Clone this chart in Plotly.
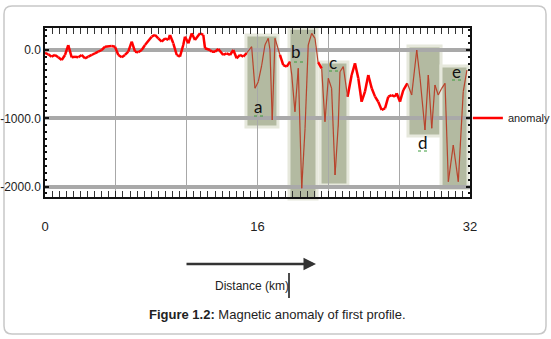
import plotly.graph_objects as go

# ---- data ----
distance_km = [0.0, 0.25, 0.50, 0.75, 1.00, 1.26, 1.51, 1.75, 2.01, 2.26, 2.51, 2.76, 3.01, 3.26, 3.52,
               3.76, 4.01, 4.27, 4.52, 5.02, 5.27, 5.52, 5.78, 6.02, 6.27, 6.53, 6.78, 7.02, 7.28, 7.53,
               8.03, 8.28, 8.53, 8.79, 9.04, 9.28, 9.41, 9.66, 9.92, 10.16, 10.41, 10.54, 10.79, 11.05,
               11.29, 11.67, 11.92, 12.05, 12.42, 12.55, 12.80, 13.05, 13.42, 13.68, 13.93, 14.18, 14.43,
               14.68, 14.93, 15.19, 15.56, 15.81, 16.06, 16.32, 16.56, 16.81, 16.94, 17.11, 17.32, 17.69,
               17.94, 18.20, 18.45, 18.58, 18.82, 19.07, 19.33, 19.58, 19.82, 20.08, 20.33, 20.56, 20.83,
               21.08, 21.33, 21.58, 21.84, 22.08, 22.21, 22.46, 22.78, 23.09, 23.34, 23.59, 23.84, 24.09,
               24.34, 24.60, 24.85, 25.09, 25.35, 25.60, 25.85, 26.10, 26.35, 26.48, 26.73, 26.98, 27.28,
               27.61, 27.99, 28.24, 28.61, 28.86, 29.12, 29.36, 29.61, 29.87, 30.12, 30.37, 30.74, 31.12,
               31.49, 31.77]
anomaly = [-44, -63, -98, -73, -107, -146, -73, 73, -107, -98, -107, -73, -122, -98, -73,
           -48, -25, 0, 48, 59, 48, -73, -107, -73, -25, 122, -25, -34, 0, 73,
           195, 220, 171, 122, 171, 146, 220, 98, -73, -98, 73, 195, 98, 244,
           146, 244, 220, 25, 0, -25, -25, 15, -73, -48, -73, 0, -122,
           -73, -98, -44, 48, -561, -464, -220, 73, 171, 0, -1025, 171, -73,
           -220, -244, -171, -366, -903, -268, -2025, -1146, 73, 244, 171, -176, -268,
           -1050, -414, -561, -1830, -1098, -318, -244, -683, -366, -195, -414, -757, -610,
           -366, -561, -683, -757, -878, -854, -683, -659, -683, -634, -757, -586, -488,
           -659, 0, -414, -1171, -366, -1146, -512, -659, -561, -488, -1928, -1391, -1928,
           -610, -293]

x_gridlines = [0, 32 / 6, 64 / 6, 16, 128 / 6, 160 / 6, 32]
x_ticktext = ["0", "", "", "16", "", "", "32"]
y_tickvals = [0, -1000, -2000]
y_ticktext = ["0.0", "-1000.0", "-2000.0"]

box_labels = ["a", "b", "c", "d", "e"]
box_x0 = [15.13, 18.37, 20.71, 27.33, 29.82]
box_x1 = [17.54, 20.48, 22.81, 29.82, 31.85]
box_top = [0.959, 0.998, 0.799, 0.893, 0.775]      # paper fraction
box_bottom = [0.414, -0.012, 0.071, 0.361, 0.050]
label_x = [16.04, 18.90, 21.69, 28.46, 30.95]
label_y = [0.538, 0.858, 0.793, 0.325, 0.740]

# split line into outside (red) / inside boxes (brownish) segments
def inside(xm):
    return any(a <= xm <= b for a, b in zip(box_x0, box_x1))

red_x, red_y, in_x, in_y = [], [], [], []
for i in range(len(distance_km) - 1):
    xa, xb = distance_km[i], distance_km[i + 1]
    ya, yb = anomaly[i], anomaly[i + 1]
    if inside((xa + xb) / 2):
        in_x += [xa, xb, None]; in_y += [ya, yb, None]
    else:
        red_x += [xa, xb, None]; red_y += [ya, yb, None]

lab_font = "Liberation Sans, Arial, sans-serif"

fig = go.Figure()
fig.add_trace(go.Scatter(x=red_x, y=red_y, mode="lines", name="anomaly",
                         line=dict(color="#ff0000", width=2.5), showlegend=True))
fig.add_trace(go.Scatter(x=in_x, y=in_y, mode="lines", showlegend=False,
                         line=dict(color="#b8432c", width=1.2)))

W, H = 551, 339
L, R, T, B = 45, 81, 28, 142
pw, ph = W - L - R, H - T - B
def px(x): return (x - L) / pw
def py(y): return (H - B - y) / ph

shapes = []
# outer rounded frame
x0f, x1f, y0f, y1f = px(4), px(546), py(334), py(6)
rx, ry = 8 / pw, 8 / ph
path = (f"M {x0f+rx},{y1f} L {x1f-rx},{y1f} Q {x1f},{y1f} {x1f},{y1f-ry} "
        f"L {x1f},{y0f+ry} Q {x1f},{y0f} {x1f-rx},{y0f} L {x0f+rx},{y0f} "
        f"Q {x0f},{y0f} {x0f},{y0f+ry} L {x0f},{y1f-ry} Q {x0f},{y1f} {x0f+rx},{y1f} Z")
shapes.append(dict(type="path", path=path, xref="paper", yref="paper",
                   line=dict(color="#c8c8c8", width=1.5), layer="below"))

for i in range(len(box_labels)):
    shapes.append(dict(type="rect", xref="x", yref="paper",
                       x0=box_x0[i], x1=box_x1[i], y0=box_bottom[i], y1=box_top[i],
                       fillcolor="rgba(120,132,88,0.56)",
                       line=dict(color="#e6e8dc", width=3), layer="between"))

# spell-check squiggles under the letters
squig = [(254, 264, 116), (294, 303, 62), (329, 338, 71), (418, 428, 151), (452, 462, 80)]
for a, b, y in squig:
    shapes.append(dict(type="line", xref="paper", yref="paper", x0=px(a), x1=px(b),
                       y0=py(y), y1=py(y), line=dict(color="#3c9c3c", width=1, dash="dot")))
# text cursor after axis title
shapes.append(dict(type="line", xref="paper", yref="paper", x0=px(289), x1=px(289),
                   y0=py(273), y1=py(298), line=dict(color="#111", width=1.5)))

annotations = []
for i, lab in enumerate(box_labels):
    annotations.append(dict(x=label_x[i], y=label_y[i], xref="x", yref="paper", text=lab,
                            xanchor="center", yanchor="middle", showarrow=False,
                            font=dict(family="Lato, Open Sans, sans-serif", size=17, color="#111")))
annotations.append(dict(x=px(316), y=py(264), xref="paper", yref="paper", text="",
                        showarrow=True, ax=-131, ay=0, arrowhead=2, arrowsize=1,
                        arrowwidth=2.5, arrowcolor="#333", standoff=0))
annotations.append(dict(x=px(252), y=py(286), xref="paper", yref="paper",
                        xanchor="center", yanchor="middle",
                        text="Distance (km)", showarrow=False,
                        font=dict(family=lab_font, size=12, color="#222")))
annotations.append(dict(x=px(277), y=py(314), xref="paper", yref="paper",
                        xanchor="center", yanchor="middle",
                        text="<b>Figure 1.2:</b> Magnetic anomaly of first profile.",
                        showarrow=False,
                        font=dict(family="Liberation Sans, Arial, sans-serif", size=13, color="#222")))

fig.update_layout(
    template="none",
    width=W, height=H, margin=dict(l=L, r=R, t=T, b=B, autoexpand=False),
    paper_bgcolor="white", plot_bgcolor="white",
    shapes=shapes, annotations=annotations,
    legend=dict(x=0.995, y=py(118), xanchor="left", yanchor="middle",
                font=dict(family=lab_font, size=11, color="#222"),
                bgcolor="rgba(0,0,0,0)", itemwidth=30),
    xaxis=dict(range=[0, 32], tickmode="array", tickvals=x_gridlines, ticktext=x_ticktext,
               automargin=False,
               showgrid=True, gridcolor="#a8a8a8", gridwidth=1.2, zeroline=False,
               showline=True, linecolor="#111", linewidth=2, mirror="allticks",
               ticks="inside", ticklen=6, tickcolor="#222", tickwidth=1,
               ticklabelstandoff=16,
               minor=dict(tick0=0, dtick=32 / 60, ticks="inside", ticklen=6,
                          tickcolor="#333", tickwidth=1, showgrid=False),
               tickfont=dict(family=lab_font, size=13, color="#222")),
    yaxis=dict(range=[-2152, 322], tickmode="array", tickvals=y_tickvals, ticktext=y_ticktext,
               automargin=False,
               showgrid=True, gridcolor="#a9a9a9", gridwidth=3.5, zeroline=False,
               showline=True, linecolor="#111", linewidth=1.5, mirror="allticks",
               ticks="inside", ticklen=4, tickcolor="#111", tickwidth=2,
               minor=dict(dtick=100, ticks="inside", ticklen=2, tickcolor="#111",
                          tickwidth=2, showgrid=False),
               tickfont=dict(family=lab_font, size=12, color="#222")),
)

fig.write_html("out.html", config={"displayModeBar": False},
               post_script="document.body.style.margin='0px';")
